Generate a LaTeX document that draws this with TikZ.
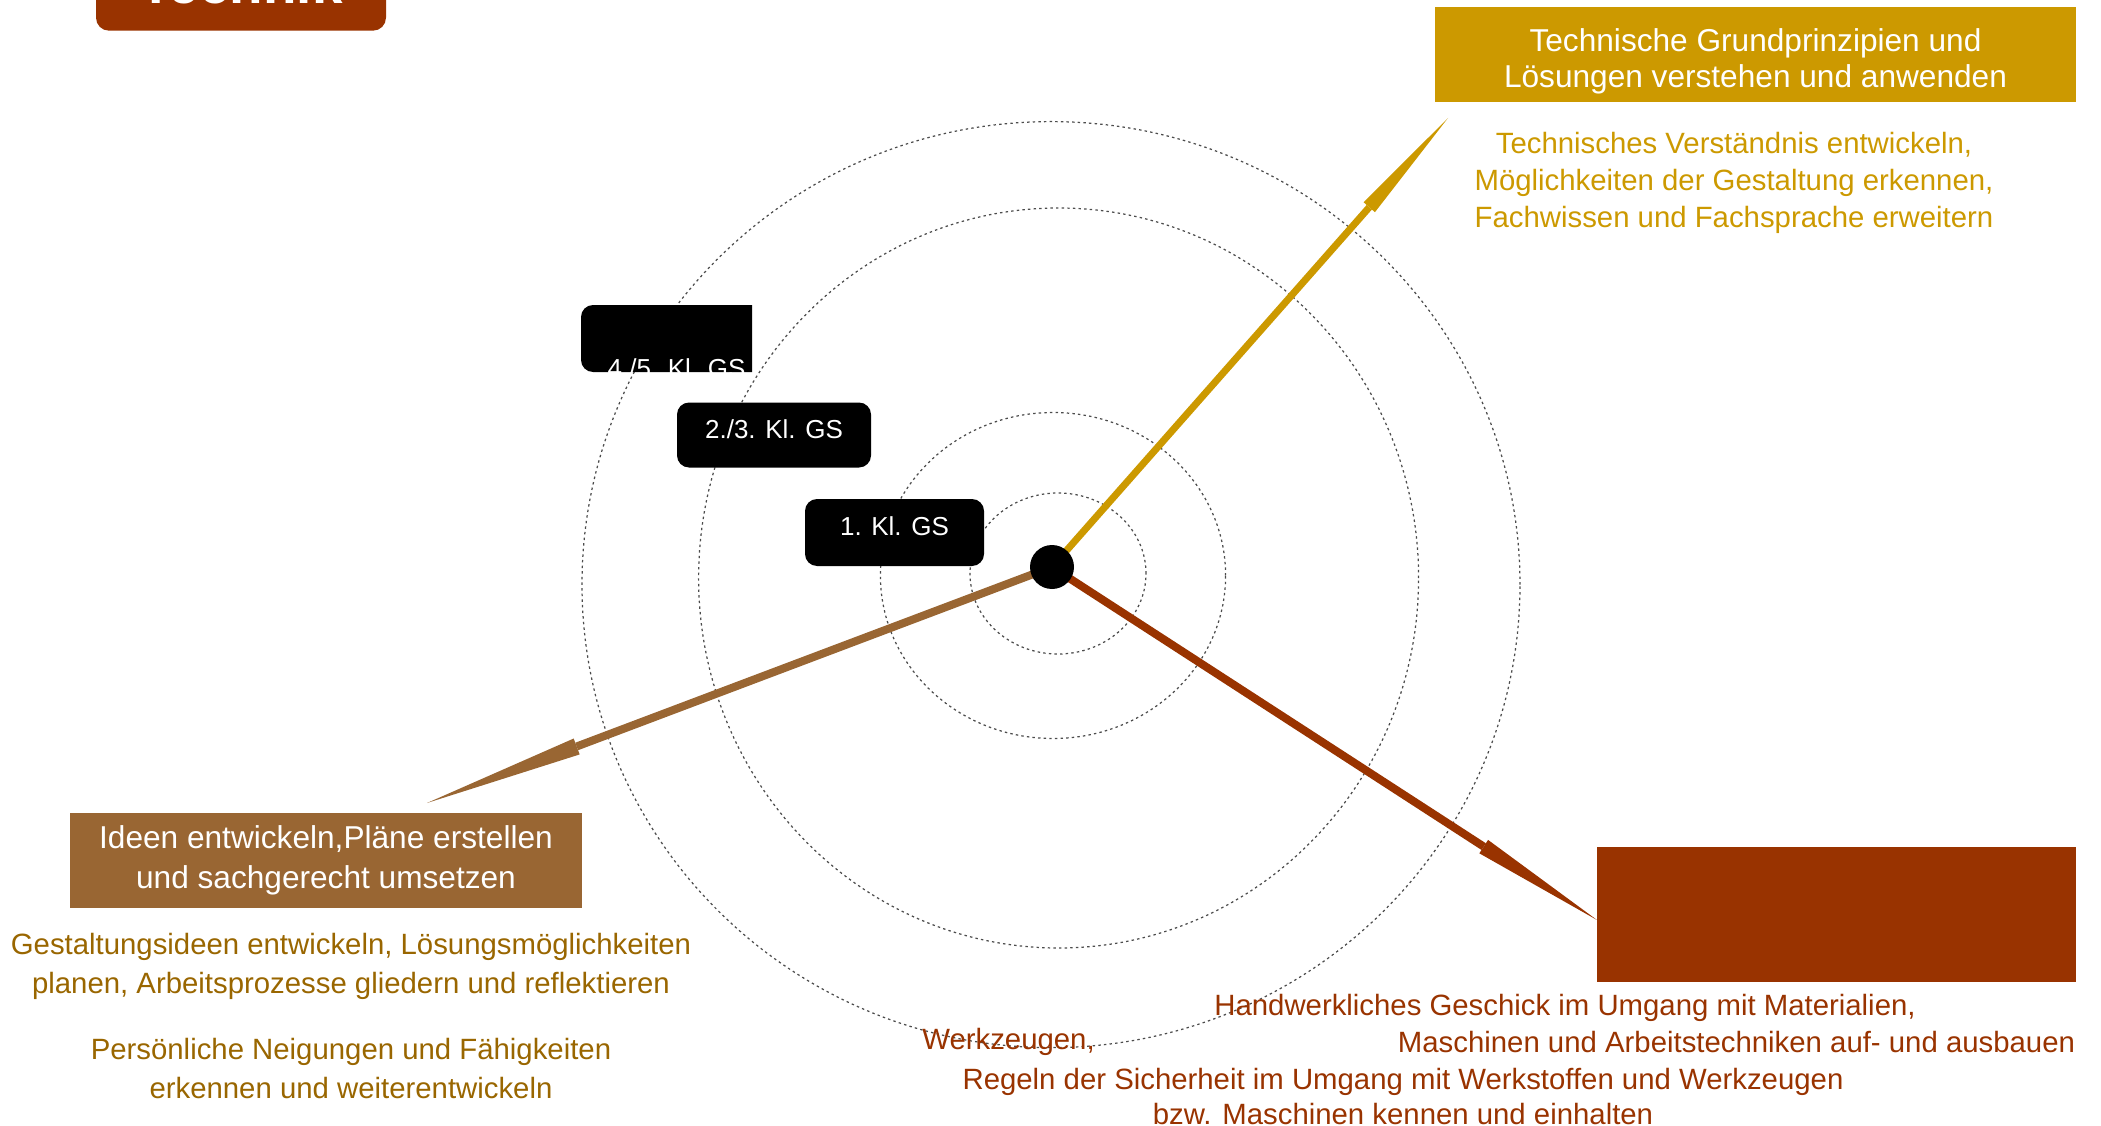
\documentclass[tikz,border=0pt]{standalone}
\usepackage{fontspec}
\setmainfont{Liberation Sans}
\usetikzlibrary{arrows.meta,positioning}
\definecolor{rost}{HTML}{993300}
\definecolor{gold}{HTML}{CC9900}
\definecolor{braun}{HTML}{996633}
\definecolor{ocker}{HTML}{996600}

\begin{document}
\begin{tikzpicture}[x=1cm,y=-1cm,
	ring/.style={black!70, line width=0.35pt, dash pattern=on 0.7pt off 0.9pt},
	lvl/.style={fill=black, text=white, rounded corners=0.12cm, text depth=0.12cm, font=\fontsize{7.4}{9}\selectfont},
	head/.style={text=white, align=center, font=\fontsize{9}{11.5}\selectfont},
	goal/.style={align=center, font=\fontsize{8.35}{11}\selectfont}]
	\useasboundingbox (0,0) rectangle (21.01,11.26);

	% Ringe
	\draw[ring] (10.58,5.735) ellipse [x radius=0.88cm, y radius=0.805cm];
	\draw[ring] (10.53,5.755) ellipse [x radius=1.726cm, y radius=1.63cm];
	\draw[ring] (10.586,5.78) ellipse [x radius=3.6cm, y radius=3.7cm];
	\draw[ring] (10.51,5.846) ellipse [x radius=4.69cm, y radius=4.63cm];

	\coordinate (mid) at (10.52,5.67);
	\coordinate (tipG) at (14.48,1.18);
	\coordinate (tipB) at (4.27,8.03);
	\coordinate (tipR) at (15.97,9.20);

	\draw[gold, line width=0.07cm, -{Triangle[length=1.19cm,width=0.15cm,line width=0pt]}] (mid) -- (tipG);
	\draw[braun, line width=0.08cm, -{Triangle[length=1.6cm,width=0.17cm,line width=0pt]}] (mid) -- (tipB);
	\draw[rost, line width=0.08cm, -{Triangle[length=1.35cm,width=0.16cm,line width=0pt]}] (mid) -- (tipR);
	\node[circle, fill=black, minimum size=0.44cm, inner sep=0pt] (dot) at (mid) {};

	% Klassenstufen
	\node[lvl, minimum width=1.79cm, minimum height=0.67cm] (k1) at (8.945,5.325) {1. Kl. GS};
	\node[lvl, minimum width=1.94cm, minimum height=0.65cm] (k23) at (7.74,4.35) {2./3. Kl. GS};
	\begin{scope}
		\clip (5.81,3.05) rectangle (7.52,3.72);
		\fill[black, rounded corners=0.12cm] (5.81,3.05) rectangle (7.75,3.72);
		\node[anchor=base, text=white, font=\fontsize{7.4}{9}\selectfont] (k45) at (6.765,3.77) {4./5. Kl. GS};
	\end{scope}

	% Titel
	\begin{scope}
		\clip (0,0) rectangle (21.01,11.26);
		\fill[rost, rounded corners=0.13cm] (0.96,-0.5) rectangle (3.86,0.307);
		\node[anchor=base, text=white, font=\bfseries\fontsize{15.6}{18}\selectfont] (titel) at (2.41,0.033) {Technik};
	\end{scope}

	% Ziele
	\node[fill=gold, minimum width=6.41cm, minimum height=0.95cm] (zielG) at (17.555,0.545) {};
	\node[head, font=\fontsize{9}{10.2}\selectfont] (kopfG) at ([yshift=-0.065cm]zielG.center) {Technische Grundprinzipien und\\Lösungen verstehen und anwenden};
	\node[head, fill=braun, minimum width=5.12cm, minimum height=0.95cm] (zielB) at (3.26,8.605) {Ideen entwickeln,Pläne erstellen\\und sachgerecht umsetzen};
	\node[fill=rost, minimum width=4.79cm, minimum height=1.35cm] (zielR) at (18.365,9.145) {};

	\node[goal, text=gold, font=\fontsize{8.35}{10.6}\selectfont] (txtG) at (17.34,1.83) {Technisches Verständnis entwickeln,\\Möglichkeiten der Gestaltung erkennen,\\Fachwissen und Fachsprache erweitern};

	\node[goal, text=ocker] (txtB1) at (3.51,9.665) {Gestaltungsideen entwickeln, Lösungsmöglichkeiten\\planen, Arbeitsprozesse gliedern und reflektieren};
	\node[goal, text=ocker] (txtB2) at (3.51,10.685) {Persönliche Neigungen und Fähigkeiten\\erkennen und weiterentwickeln};

	\node[goal, text=rost] (txtR1) at (15.65,10.075) {Handwerkliches Geschick im Umgang mit Materialien,};
	\node[goal, text=rost] (txtR2) at (10.085,10.42) {Werkzeugen,};
	\node[goal, text=rost] (txtR3) at (17.365,10.42) {Maschinen und Arbeitstechniken auf- und ausbauen};
	\node[goal, text=rost, font=\fontsize{8.35}{10.1}\selectfont] (txtR4) at (14.03,10.965) {Regeln der Sicherheit im Umgang mit Werkstoffen und Werkzeugen\\bzw. Maschinen kennen und einhalten};
\end{tikzpicture}
\end{document}
